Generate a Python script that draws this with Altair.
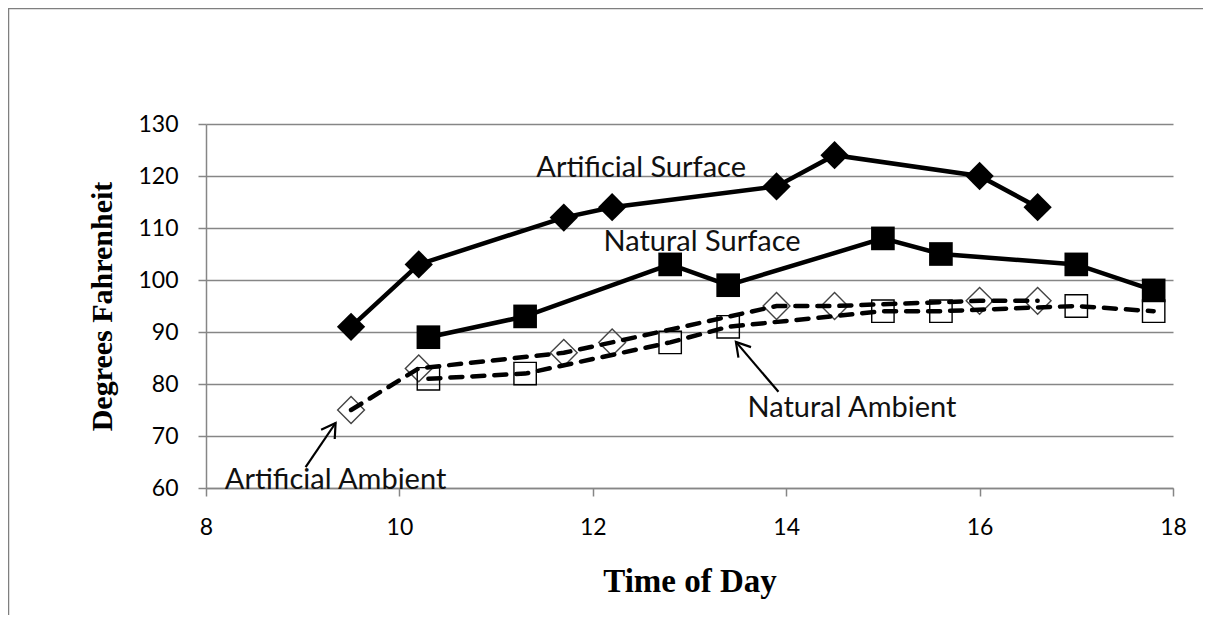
import altair as alt
import pandas as pd

# ---- data ----
x_art = [9.5, 10.2, 11.7, 12.2, 13.9, 14.5, 16.0, 16.6]
art_surface = [91, 103, 112, 114, 118, 124, 120, 114]
art_ambient = [75, 83, 86, 88, 95, 95, 96, 96]

x_nat = [10.3, 11.3, 12.8, 13.4, 15.0, 15.6, 17.0, 17.8]
nat_surface = [89, 93, 103, 99, 108, 105, 103, 98]
nat_ambient = [81, 82, 88, 91, 94, 94, 95, 94]

x_ticks = [8, 10, 12, 14, 16, 18]
y_ticks = [60, 70, 80, 90, 100, 110, 120, 130]

# annotation labels (text, x, y)
label_text = ["Artificial Surface", "Natural Surface", "Natural Ambient", "Artificial Ambient"]
label_x = [12.5, 13.13, 14.68, 9.34]
label_y = [119.8, 105.6, 73.6, 59.9]

# arrows (tail -> tip)
arrow_x = [9.03, 13.92]
arrow_y = [64.0, 78.5]
arrow_x2 = [9.34, 13.48]
arrow_y2 = [72.5, 88.1]
arrow_angle = [34, 320]

FONT = "Lato"
SERIF = "Liberation Serif"
GRID = "#868686"

def sdf(xs, ys, name):
    return pd.DataFrame({"time": xs, "temp": ys, "series": name})

xsc = alt.Scale(domain=[8, 18], nice=False, zero=False)
ysc = alt.Scale(domain=[60, 130], nice=False, zero=False)

X = alt.X("time:Q", scale=xsc, axis=alt.Axis(
    values=x_ticks, format="d", title="Time of Day", grid=False,
    titleFont=SERIF, titleFontSize=33, titleFontWeight="bold", titleColor="black",
    titlePadding=26, labelFont=FONT, labelFontSize=23, labelColor="black",
    labelPadding=20, tickSize=8, tickColor=GRID, domainColor=GRID, domainWidth=1.5,
    tickWidth=1.5, labelFlush=False))
Y = alt.Y("temp:Q", scale=ysc, axis=alt.Axis(
    values=y_ticks, format="d", title="Degrees Fahrenheit", grid=True, gridColor=GRID, gridWidth=1.5,
    titleFont=SERIF, titleFontSize=30, titleFontWeight="bold", titleColor="black",
    titlePadding=20, labelFont=FONT, labelFontSize=23, labelColor="black",
    labelPadding=20, tickSize=8, tickColor=GRID, domainColor=GRID, domainWidth=1.5,
    tickWidth=1.5, labelFlush=False))

layers = []

d_as = sdf(x_art, art_surface, "Artificial Surface")
d_ns = sdf(x_nat, nat_surface, "Natural Surface")
d_aa = sdf(x_art, art_ambient, "Artificial Ambient")
d_na = sdf(x_nat, nat_ambient, "Natural Ambient")

# surface series: solid lines with filled markers
base_as = alt.Chart(d_as).encode(x=X, y=Y)
layers.append(base_as.mark_line(color="black", strokeWidth=4.5))
layers.append(base_as.mark_point(shape="diamond", size=800, filled=True, color="black", opacity=1))

base_ns = alt.Chart(d_ns).encode(x=X, y=Y)
layers.append(base_ns.mark_line(color="black", strokeWidth=4.5))
layers.append(base_ns.mark_point(shape="square", size=560, filled=True, color="black", opacity=1))

# ambient series: dashed lines with open markers
base_aa = alt.Chart(d_aa).encode(x=X, y=Y)
layers.append(base_aa.mark_point(shape="diamond", size=720, filled=False, color="#444444",
                                 strokeWidth=1.4, opacity=1))
layers.append(base_aa.mark_line(color="black", strokeWidth=4.5, strokeDash=[12, 10], strokeCap="round"))

base_na = alt.Chart(d_na).encode(x=X, y=Y)
layers.append(base_na.mark_point(shape="square", size=500, filled=False, color="black",
                                 strokeWidth=1.4, opacity=1))
layers.append(base_na.mark_line(color="black", strokeWidth=4.5, strokeDash=[12, 10], strokeCap="round"))

# annotation labels
lab = pd.DataFrame({"label": label_text, "time": label_x, "temp": label_y})
layers.append(alt.Chart(lab).mark_text(font=FONT, fontSize=29, color="#111111",
                                       align="center", baseline="alphabetic")
              .encode(x=alt.X("time:Q", scale=xsc), y=alt.Y("temp:Q", scale=ysc), text="label:N"))

# arrows
arr = pd.DataFrame({"x": arrow_x, "y": arrow_y, "x2": arrow_x2, "y2": arrow_y2, "ang": arrow_angle})
layers.append(alt.Chart(arr).mark_rule(color="black", strokeWidth=2.2)
              .encode(x=alt.X("x:Q", scale=xsc), y=alt.Y("y:Q", scale=ysc),
                      x2="x2:Q", y2="y2:Q"))
layers.append(alt.Chart(arr).mark_point(shape="M -0.6 1 L 0 0 L 0.6 1", size=750, filled=False,
                                        color="black", strokeWidth=2.2, opacity=1)
              .encode(x=alt.X("x2:Q", scale=xsc), y=alt.Y("y2:Q", scale=ysc),
                      angle=alt.Angle("ang:Q", scale=None)))

# outer frame (decorative border of the original picture): top and left edges
frame = pd.DataFrame({"k": [0]})
layers.append(alt.Chart(frame).mark_rule(color="#7f7f7f", strokeWidth=2.5)
              .encode(x=alt.value(-198), x2=alt.value(997), y=alt.value(-116)))
layers.append(alt.Chart(frame).mark_rule(color="#7f7f7f", strokeWidth=2.5)
              .encode(x=alt.value(-198), y=alt.value(-116), y2=alt.value(491)))

chart = alt.layer(*layers).properties(
    width=967, height=364,
    autosize=alt.AutoSizeParams(type="none"),
    padding={"left": 198, "top": 116, "right": 30, "bottom": 127},
    background="white",
).configure_view(stroke="transparent")

chart.save("out.html", embed_options={"renderer": "svg", "actions": False})
